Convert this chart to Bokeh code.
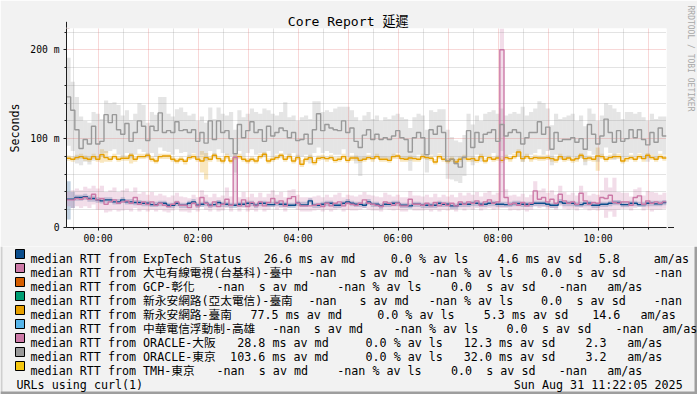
import math
import pandas as pd
from bokeh.plotting import figure
from bokeh.models import (Range1d, FixedTicker, DatetimeTickFormatter, Grid,
                          Arrow, NormalHead, Title)
from bokeh.embed import file_html
from bokeh.resources import INLINE
from bokeh.core.properties import value

# ---------------------------------------------------------------- texts
TITLE = "Core Report 延遲"
Y_LABEL = "Seconds"
WATERMARK = "RRDTOOL / TOBI OETIKER"
FOOT_LEFT = "URLs using curl(1)"
FOOT_RIGHT = "Sun Aug 31 11:22:05 2025"
T_START = "2025-08-30 23:22:05"
T_END = "2025-08-31 11:22:05"
STEP = "5min"
Y_MAX = 224
y_major = [0, 100, 200]
y_major_text = ["0", "100 m", "200 m"]
y_minor = [20, 40, 60, 80, 120, 140, 160, 180, 220]

# ---------------------------------------------------------------- data (ms)
# ExpTech Status
exptech_md = [31.8, 31.8, 33.7, 33.7, 34.8, 32.6, 32.6, 31.1, 30.0, 31.1, 31.1, 28.8, 28.8, 31.1, 28.8, 28.8, 28.1, 28.1, 27.3, 27.3, 25.8, 25.8, 27.3, 27.3, 25.1, 25.1, 27.3, 25.1, 25.1,
              27.3, 28.8, 25.1, 26.2, 27.3, 25.1, 25.8, 28.1, 26.2, 26.2, 25.1, 25.1, 26.2, 26.2, 27.3, 27.3, 25.1, 27.3, 27.3, 25.8, 25.8, 27.3, 26.2, 26.2, 25.1, 25.1, 27.3, 25.5, 25.5,
              30.0, 25.1, 25.1, 26.2, 27.3, 27.3, 25.1, 25.1, 27.3, 28.8, 27.3, 26.2, 26.2, 25.1, 28.8, 26.2, 26.2, 24.3, 26.2, 26.2, 27.3, 27.3, 25.1, 25.1, 24.3, 26.2, 26.2, 25.1, 25.1,
              25.1, 25.1, 27.3, 26.2, 26.2, 24.3, 24.3, 26.2, 26.2, 26.2, 27.3, 27.3, 26.2, 26.2, 27.3, 27.3, 26.2, 26.2, 25.8, 25.8, 27.0, 27.0, 26.2, 26.2, 26.2, 27.3, 27.3, 27.3,
              26.2, 25.1, 25.1, 28.8, 27.3, 27.3, 27.3, 25.8, 25.8, 27.3, 27.3, 25.1, 25.1, 26.2, 26.2, 27.3, 28.1, 28.1, 25.8, 25.8, 27.3, 27.3, 25.8, 25.8, 27.3, 27.3, 26.6, 26.6, 28.1]
exptech_lo = [9, 22, 30, 30, 31, 29, 29, 28, 27, 28, 28, 26, 26, 28, 26, 26, 25, 25, 24, 24, 23, 23, 24, 24, 22, 22, 24, 22, 22,
              24, 26, 22, 23, 24, 22, 23, 25, 23, 23, 22, 22, 23, 23, 24, 24, 22, 24, 24, 23, 23, 24, 23, 23, 22, 22, 24, 23, 23,
              27, 22, 22, 23, 24, 24, 22, 22, 24, 26, 24, 23, 23, 22, 26, 23, 23, 21, 23, 23, 24, 24, 22, 22, 21, 23, 23, 22, 22,
              22, 22, 24, 23, 23, 21, 21, 23, 23, 23, 24, 24, 23, 23, 24, 24, 23, 23, 23, 23, 24, 24, 23, 23, 23, 24, 24, 24,
              23, 22, 22, 26, 24, 24, 24, 23, 23, 24, 24, 22, 22, 23, 23, 24, 25, 25, 23, 23, 24, 24, 23, 23, 24, 24, 24, 24, 25]
exptech_hi = [52, 40, 37, 37, 38, 36, 36, 34, 33, 34, 34, 32, 32, 34, 32, 32, 31, 31, 30, 30, 29, 29, 30, 30, 28, 28, 30, 28, 28,
              30, 32, 28, 29, 30, 28, 29, 31, 29, 29, 28, 28, 29, 29, 30, 30, 28, 30, 30, 29, 29, 30, 29, 29, 28, 28, 30, 29, 29,
              33, 28, 28, 29, 30, 30, 28, 28, 30, 32, 30, 29, 29, 28, 32, 29, 29, 27, 29, 29, 30, 30, 28, 28, 27, 29, 29, 28, 28,
              28, 28, 30, 29, 29, 27, 27, 29, 29, 29, 30, 30, 29, 29, 30, 30, 29, 29, 29, 29, 30, 30, 29, 29, 29, 30, 30, 30,
              29, 28, 28, 32, 30, 30, 30, 29, 29, 30, 30, 28, 28, 29, 29, 30, 31, 31, 29, 29, 30, 30, 29, 29, 30, 30, 30, 30, 31]

# 新永安網路-臺南
tainan_md = [77.9, 76.8, 78.6, 79.8, 77.9, 76.8, 79.8, 76.8, 82.0, 78.6, 76.8, 79.8, 76.8, 77.9, 77.9, 81.3, 76.8, 79.8, 79.8, 81.3, 76.8, 74.9, 79.8, 80.5, 80.5, 76.8, 74.9, 76.8, 74.5,
             78.6, 79.8, 76.8, 74.9, 78.6, 76.8, 81.3, 77.5, 74.9, 79.8, 74.9, 78.6, 79.8, 76.8, 74.9, 76.8, 74.9, 79.8, 82.4, 74.9, 76.8, 78.6, 81.3, 76.8, 79.8, 74.9, 78.6, 71.2, 76.8,
             78.6, 73.0, 77.9, 78.6, 77.5, 78.6, 75.6, 76.8, 79.8, 75.6, 78.2, 78.2, 75.6, 76.8, 78.6, 77.5, 79.8, 76.8, 76.8, 75.6, 79.8, 80.5, 77.5, 76.8, 78.2, 77.5, 76.8, 79.8, 78.6,
             77.9, 73.8, 79.8, 76.8, 74.9, 76.8, 73.8, 76.8, 78.6, 76.8, 77.5, 75.6, 79.8, 74.9, 78.6, 76.8, 78.2, 75.6, 78.6, 77.5, 79.8, 85.0, 77.5, 79.8, 77.5, 78.6, 78.2, 78.2,
             78.6, 77.5, 76.0, 79.8, 76.8, 78.2, 76.0, 77.5, 81.3, 77.5, 78.2, 76.8, 80.5, 79.8, 76.8, 78.6, 79.8, 79.8, 74.9, 77.5, 78.6, 76.8, 79.8, 77.5, 81.3, 78.6, 76.8, 79.8, 78.2]
tainan_lo = [75, 74, 76, 77, 75, 74, 77, 74, 73, 74, 74, 77, 74, 75, 75, 72, 74, 77, 77, 78, 74, 72, 77, 77, 77, 74, 72, 74, 71,
             76, 77, 74, 62, 54, 74, 78, 74, 72, 77, 72, 76, 77, 74, 72, 74, 72, 77, 79, 72, 74, 76, 78, 74, 77, 72, 76, 68, 74,
             76, 70, 75, 76, 74, 76, 73, 74, 77, 73, 75, 75, 73, 74, 76, 74, 77, 74, 74, 73, 77, 77, 74, 74, 75, 74, 74, 77, 76,
             75, 71, 77, 74, 72, 74, 71, 74, 76, 74, 74, 73, 77, 72, 76, 74, 75, 73, 76, 74, 77, 80, 74, 77, 74, 76, 75, 75,
             76, 74, 73, 77, 74, 75, 73, 74, 78, 74, 75, 74, 64, 77, 74, 76, 77, 77, 72, 74, 76, 74, 77, 74, 78, 76, 74, 77, 75]
tainan_hi = [81, 80, 82, 83, 81, 80, 83, 80, 88, 86, 80, 83, 80, 81, 81, 84, 80, 83, 83, 84, 80, 78, 83, 83, 83, 80, 78, 80, 77,
             82, 83, 80, 86, 84, 80, 84, 80, 78, 83, 78, 82, 83, 80, 78, 80, 78, 83, 85, 78, 80, 82, 84, 80, 83, 78, 82, 76, 80,
             82, 76, 81, 82, 80, 82, 79, 80, 83, 79, 81, 81, 79, 80, 82, 80, 83, 80, 80, 79, 83, 83, 80, 80, 81, 80, 80, 83, 82,
             81, 77, 83, 80, 78, 80, 77, 80, 82, 80, 80, 79, 83, 78, 82, 80, 81, 79, 82, 80, 83, 88, 80, 83, 80, 82, 81, 81,
             82, 80, 79, 83, 80, 81, 79, 80, 84, 80, 81, 80, 90, 83, 80, 82, 83, 83, 78, 80, 82, 80, 83, 80, 84, 82, 80, 83, 81]

# ORACLE-大阪
osaka_md = [31.1, 31.1, 32.6, 31.8, 33.7, 31.8, 37.5, 31.1, 32.6, 26.2, 28.8, 31.1, 27.3, 28.8, 30.0, 27.3, 33.7, 26.2, 28.8, 26.2, 28.8, 25.1, 27.3, 25.1, 23.6, 26.2, 28.8, 25.1, 25.1,
            22.5, 27.3, 24.3, 33.7, 27.3, 24.3, 28.8, 23.6, 26.2, 31.8, 25.1, 79.0, 24.3, 31.1, 23.6, 28.1, 24.3, 28.8, 24.3, 28.1, 32.6, 27.3, 30.0, 24.3, 32.6, 34.8, 27.3, 24.3, 24.3,
            24.3, 25.1, 26.2, 23.6, 27.3, 24.3, 27.3, 28.8, 24.3, 27.3, 26.2, 25.1, 27.3, 31.1, 27.3, 26.2, 25.1, 23.6, 28.8, 27.3, 25.1, 27.3, 24.3, 24.3, 31.8, 26.2, 26.2, 25.1, 27.3,
            24.3, 28.1, 24.3, 27.3, 25.1, 27.3, 24.3, 28.8, 26.2, 28.8, 27.3, 30.0, 25.1, 28.8, 31.1, 27.3, 28.8, 200.0, 33.7, 26.2, 27.3, 25.1, 28.1, 24.3, 27.3, 41.2, 31.8, 33.7,
            28.8, 31.8, 27.3, 37.5, 30.0, 27.3, 28.8, 26.2, 38.6, 30.0, 26.2, 28.1, 27.3, 33.7, 32.6, 36.3, 28.1, 27.3, 28.8, 28.8, 25.1, 33.7, 35.6, 26.2, 30.0, 27.3, 28.8, 27.3, 28.8]
osaka_lo = [24, 22, 24, 22, 24, 22, 26, 20, 20, 17, 18, 20, 18, 19, 20, 18, 22, 18, 20, 18, 20, 18, 20, 18, 17, 19, 21, 18, 18,
            17, 20, 18, 24, 20, 18, 21, 18, 19, 22, 18, 24, 18, 22, 18, 20, 18, 21, 18, 20, 23, 20, 22, 18, 23, 24, 20, 18, 18,
            18, 19, 20, 18, 20, 18, 20, 21, 18, 20, 19, 19, 20, 22, 20, 19, 19, 18, 21, 20, 19, 20, 18, 18, 22, 19, 19, 19, 20,
            18, 20, 18, 20, 19, 20, 18, 21, 19, 21, 20, 22, 19, 21, 22, 20, 21, 22, 22, 19, 20, 19, 20, 18, 20, 24, 22, 23,
            21, 22, 20, 24, 21, 20, 21, 19, 22, 21, 19, 20, 19, 20, 11, 18, 12, 20, 21, 21, 19, 22, 24, 19, 21, 18, 20, 20, 21]
osaka_hi = [40, 42, 44, 42, 46, 44, 47, 44, 47, 40, 42, 45, 40, 42, 44, 40, 45, 38, 40, 37, 40, 36, 38, 36, 34, 36, 39, 35, 34,
            33, 37, 34, 42, 37, 34, 38, 34, 36, 45, 35, 82, 34, 40, 34, 38, 34, 39, 34, 38, 42, 37, 40, 34, 42, 43, 37, 34, 34,
            34, 35, 36, 34, 37, 34, 37, 39, 34, 37, 36, 35, 37, 40, 37, 36, 35, 34, 39, 37, 35, 37, 34, 34, 41, 36, 36, 35, 37,
            34, 38, 34, 37, 35, 37, 34, 39, 36, 39, 37, 40, 35, 39, 41, 37, 39, 224, 43, 36, 37, 35, 38, 34, 37, 52, 42, 44,
            39, 42, 37, 47, 40, 37, 39, 36, 47, 40, 36, 38, 37, 42, 56, 45, 56, 40, 39, 39, 35, 43, 45, 36, 41, 40, 39, 37, 39]

# ORACLE-東京
tokyo_md = [147, 132, 110, 89, 99, 94, 114, 94, 97, 127, 118, 127, 110, 105, 117, 97, 107, 120, 114, 98, 114, 109, 129, 107, 109, 107, 119, 109, 110,
            107, 110, 97, 107, 95, 120, 99, 120, 107, 109, 100, 83, 116, 101, 109, 119, 107, 110, 97, 114, 103, 107, 112, 109, 101, 107, 98, 99, 105,
            94, 110, 128, 109, 116, 112, 110, 109, 120, 107, 112, 97, 90, 104, 110, 99, 105, 99, 101, 99, 103, 109, 101, 99, 85, 101, 107, 101, 82,
            110, 105, 114, 107, 75, 77, 72, 68, 79, 109, 90, 107, 96, 105, 107, 110, 97, 116, 103, 107, 110, 107, 94, 101, 107, 107, 119, 105,
            113, 88, 107, 97, 99, 99, 101, 96, 100, 88, 116, 105, 94, 103, 122, 107, 96, 109, 97, 100, 110, 101, 110, 99, 93, 107, 96, 112, 103]
tokyo_lo = [92, 86, 72, 70, 74, 71, 75, 78, 80, 84, 86, 88, 82, 80, 84, 78, 82, 88, 85, 80, 84, 79, 90, 86, 85, 82, 88, 84, 85,
            80, 84, 78, 82, 75, 86, 80, 88, 84, 82, 80, 62, 86, 80, 84, 88, 82, 84, 80, 86, 80, 83, 86, 82, 80, 84, 78, 80, 82,
            72, 84, 90, 84, 86, 84, 82, 82, 88, 80, 84, 72, 58, 76, 84, 78, 80, 78, 78, 76, 80, 84, 78, 76, 64, 78, 82, 80, 62,
            82, 80, 84, 80, 55, 54, 52, 50, 58, 80, 70, 82, 74, 80, 82, 84, 78, 86, 80, 82, 84, 80, 74, 80, 82, 84, 88, 82,
            86, 70, 82, 76, 78, 78, 80, 76, 78, 70, 86, 82, 74, 80, 90, 84, 76, 84, 78, 80, 84, 80, 84, 78, 74, 82, 76, 86, 82]
tokyo_hi = [191, 164, 147, 125, 120, 118, 130, 128, 122, 143, 140, 141, 138, 126, 132, 121, 128, 140, 138, 118, 130, 127, 147, 147, 128, 125, 133, 135, 130,
            126, 128, 120, 125, 118, 135, 122, 135, 128, 126, 130, 110, 132, 124, 128, 134, 130, 128, 134, 132, 128, 126, 130, 141, 124, 126, 120, 124, 126,
            122, 142, 142, 130, 132, 130, 134, 136, 136, 136, 132, 124, 120, 126, 130, 122, 126, 120, 124, 122, 126, 128, 124, 122, 112, 124, 128, 126, 110,
            132, 130, 133, 133, 110, 102, 98, 96, 104, 128, 116, 126, 120, 128, 130, 132, 128, 134, 126, 128, 130, 128, 136, 126, 130, 134, 142, 140,
            134, 115, 128, 122, 124, 126, 128, 120, 126, 114, 134, 128, 120, 126, 140, 138, 134, 130, 122, 130, 130, 128, 130, 124, 120, 128, 122, 125, 125]

# legend
legend_names = ["ExpTech Status", "大屯有線電視(台基科)-臺中", "GCP-彰化",
                "新永安網路(亞太電信)-臺南", "新永安網路-臺南", "中華電信浮動制-高雄",
                "ORACLE-大阪", "ORACLE-東京", "TMH-東京"]
legend_colors = ["#0a4d8c", "#cc79a7", "#d55e00", "#009e73", "#e69f00",
                 "#56b4e9", "#cc79a7", "#999999", "#f5c710"]
legend_stats = [
    ["26.6 ms av md", "0.0 % av ls", "4.6 ms av sd", "5.8", "am/as"],
    ["-nan", "s av md", "-nan % av ls", "0.0", "s av sd", "-nan"],
    ["-nan", "s av md", "-nan % av ls", "0.0", "s av sd", "-nan", "am/as"],
    ["-nan", "s av md", "-nan % av ls", "0.0", "s av sd", "-nan"],
    ["77.5 ms av md", "0.0 % av ls", "5.3 ms av sd", "14.6", "am/as"],
    ["-nan", "s av md", "-nan % av ls", "0.0", "s av sd", "-nan", "am/as"],
    ["28.8 ms av md", "0.0 % av ls", "12.3 ms av sd", "2.3", "am/as"],
    ["103.6 ms av md", "0.0 % av ls", "32.0 ms av sd", "3.2", "am/as"],
    ["-nan", "s av md", "-nan % av ls", "0.0", "s av sd", "-nan", "am/as"],
]

# ---------------------------------------------------------------- layout / style
stat_x = [
    [263.3, 390.3, 497.0, 598.3, 653.3],
    [308.0, 359.0, 428.3, 540.5, 576.0, 653.3],
    [216.0, 258.3, 336.7, 450.5, 485.7, 558.3, 606.7],
    [308.0, 359.0, 428.3, 540.5, 576.0, 653.3],
    [250.0, 376.7, 483.3, 591.7, 640.0],
    [271.7, 313.3, 393.3, 506.0, 541.5, 615.0, 661.7],
    [236.7, 365.0, 463.3, 585.0, 626.7],
    [229.6, 365.0, 463.3, 585.0, 626.7],
    [216.0, 258.3, 336.7, 450.5, 485.7, 558.3, 606.7],
]
W = 697
TOP_H = 246          # height of the chart part
LEG_H = 394 - TOP_H  # height of the legend part
BG = "#f2f2f2"
SHADE_A = "#cfcfcf"
SHADE_B = "#9e9e9e"
AXIS = "#1f1f1f"
ARROW = "#801f1f"
MONO = "DejaVu Sans Mono"
MONO_CJK = "DejaVu Sans Mono, Noto Sans CJK TC"

series = [
    (exptech_md, exptech_lo, exptech_hi, legend_colors[0]),
    (tainan_md, tainan_lo, tainan_hi, legend_colors[4]),
    (osaka_md, osaka_lo, osaka_hi, legend_colors[6]),
    (tokyo_md, tokyo_lo, tokyo_hi, legend_colors[7]),
]

t_start = pd.Timestamp(T_START)
t_end = pd.Timestamp(T_END)
step_td = pd.Timedelta(STEP)
n = len(tokyo_md)
times = pd.date_range(T_START, periods=n, freq=STEP)


def ms(t):
    return pd.Timestamp(t).value / 1e6


# ================================================================ chart
p = figure(width=W, height=TOP_H, x_axis_type="datetime",
           x_range=Range1d(t_start, t_end), y_range=Range1d(0, Y_MAX),
           output_backend="svg", toolbar_location=None,
           min_border_left=66, min_border_right=31,
           min_border_top=28, min_border_bottom=TOP_H - 228)
p.background_fill_color = "white"
p.border_fill_color = BG
p.outline_line_color = None
p.xgrid.visible = False
p.ygrid.visible = False

p.title.text = TITLE
p.title.align = "left"
p.title.offset = 287.3 - 66
p.title.text_font = MONO_CJK
p.title.text_font_size = "13.1px"
p.title.text_font_style = "normal"
p.title.text_color = "black"
p.title.standoff = 0

# spacer then vertical watermark in the right margin
p.add_layout(Title(text=" ", text_font_size="1px", standoff=16), "right")
p.add_layout(Title(text=WATERMARK, align="left", offset=-23, standoff=0,
                   text_font=MONO, text_font_size="8px", text_font_style="normal",
                   text_color="#a8a8a8"), "right")

# smoke
for md, lo, hi, col in series:
    p.quad(left=times, right=times + step_td, bottom=lo, top=hi,
           fill_color=col, fill_alpha=0.25, line_color=None, level="image")

# grids
hours = pd.date_range("2025-08-31 00:00", "2025-08-31 11:00", freq="1h")
halves = pd.date_range("2025-08-30 23:30", "2025-08-31 11:00", freq="30min")
half_only = [ms(t) for t in halves if t.minute == 30]
GRID_KW = dict(grid_line_dash="1 1", grid_line_width=1)
p.add_layout(Grid(dimension=0, ticker=FixedTicker(ticks=half_only),
                  grid_line_color="#8f8f8f", grid_line_alpha=0.5, **GRID_KW))
p.add_layout(Grid(dimension=0, ticker=FixedTicker(ticks=[ms(t) for t in hours]),
                  grid_line_color="#de4f4f", grid_line_alpha=0.45, **GRID_KW))
p.add_layout(Grid(dimension=1, ticker=FixedTicker(ticks=y_minor),
                  grid_line_color="#8f8f8f", grid_line_alpha=0.5, **GRID_KW))
p.add_layout(Grid(dimension=1, ticker=FixedTicker(ticks=[100, 200]),
                  grid_line_color="#de4f4f", grid_line_alpha=0.45, **GRID_KW))

# median lines
for md, lo, hi, col in series:
    xs = list(times) + [times[-1] + step_td]
    ys = list(md) + [md[-1]]
    p.step(x=xs, y=ys, mode="after", line_color=col, line_width=1.4)

# axes
labels = pd.date_range("2025-08-31 00:00", "2025-08-31 10:00", freq="2h")
xa = p.xaxis[0]
xa.ticker = FixedTicker(ticks=[ms(t) for t in labels], minor_ticks=[ms(t) for t in halves])
fmt = "%H:%M"
xa.formatter = DatetimeTickFormatter(milliseconds=fmt, seconds=fmt, minsec=fmt, minutes=fmt,
                                     hourmin=fmt, hours=fmt, days=fmt, months=fmt, years=fmt)
ya = p.yaxis[0]
ya.ticker = FixedTicker(ticks=y_major, minor_ticks=y_minor)
ya.major_label_overrides = {v: t for v, t in zip(y_major, y_major_text)}
ya.axis_label = Y_LABEL
ya.axis_label_text_font = MONO
ya.axis_label_text_font_style = "normal"
ya.axis_label_text_font_size = "11.7px"
ya.axis_label_text_color = "black"
ya.axis_label_standoff = 5
for ax in (xa, ya):
    ax.axis_line_color = AXIS
    ax.major_tick_line_color = AXIS
    ax.minor_tick_line_color = AXIS
    ax.major_tick_in = 0
    ax.major_tick_out = 3
    ax.minor_tick_in = 0
    ax.minor_tick_out = 2
    ax.major_label_text_font = MONO
    ax.major_label_text_font_size = "9.7px"
    ax.major_label_text_color = "black"
xa.major_label_standoff = 2
ya.major_label_standoff = 4

p.add_layout(Arrow(end=NormalHead(size=6, fill_color=ARROW, line_color=ARROW, line_width=1),
                   x_start=ms(t_start), y_start=Y_MAX, x_end=ms(t_start), y_end=Y_MAX + 7.5,
                   line_color=AXIS, line_width=1))
p.add_layout(Arrow(end=NormalHead(size=6, fill_color=ARROW, line_color=ARROW, line_width=1),
                   x_start=ms(t_end), y_start=0, x_end=ms(t_end + pd.Timedelta("9min")), y_end=0,
                   line_color=AXIS, line_width=1))

# ================================================================ legend part
leg = figure(width=W, height=LEG_H, x_range=Range1d(0, W), y_range=Range1d(394, TOP_H),
             output_backend="svg", toolbar_location=None, min_border=0,
             x_axis_type=None, y_axis_type=None)
leg.background_fill_color = BG
leg.border_fill_color = BG
leg.outline_line_color = None

# image frame shading (left, right, bottom)
leg.quad(left=[0, W - 3, 0], right=[2, W, W], top=[TOP_H, TOP_H, 391], bottom=[394, 394, 394],
         fill_color=[SHADE_A, SHADE_B, SHADE_B], line_color=None)

row_y = [258.4 + 14 * k for k in range(len(legend_names))]
leg.rect(x=[19.5] * len(legend_names), y=[y - 4.9 for y in row_y], width=9, height=9,
         fill_color=legend_colors, line_color="black", line_width=1)

tx, ty, tt = [], [], []
for k, name in enumerate(legend_names):
    tx.append(30.0); ty.append(row_y[k]); tt.append("median RTT from " + name)
    for s, x in zip(legend_stats[k], stat_x[k]):
        tx.append(x); ty.append(row_y[k]); tt.append(s)
foot_y = 258.4 + 14 * len(legend_names)
tx += [16.0, 513.3]; ty += [foot_y, foot_y]; tt += [FOOT_LEFT, FOOT_RIGHT]
leg.text(x=tx, y=ty, text=tt, text_font=value(MONO_CJK), text_font_size="11.7px",
         text_align="left", text_baseline="alphabetic", text_color="black")

open("out.html", "w").write(file_html([p, leg], INLINE))
